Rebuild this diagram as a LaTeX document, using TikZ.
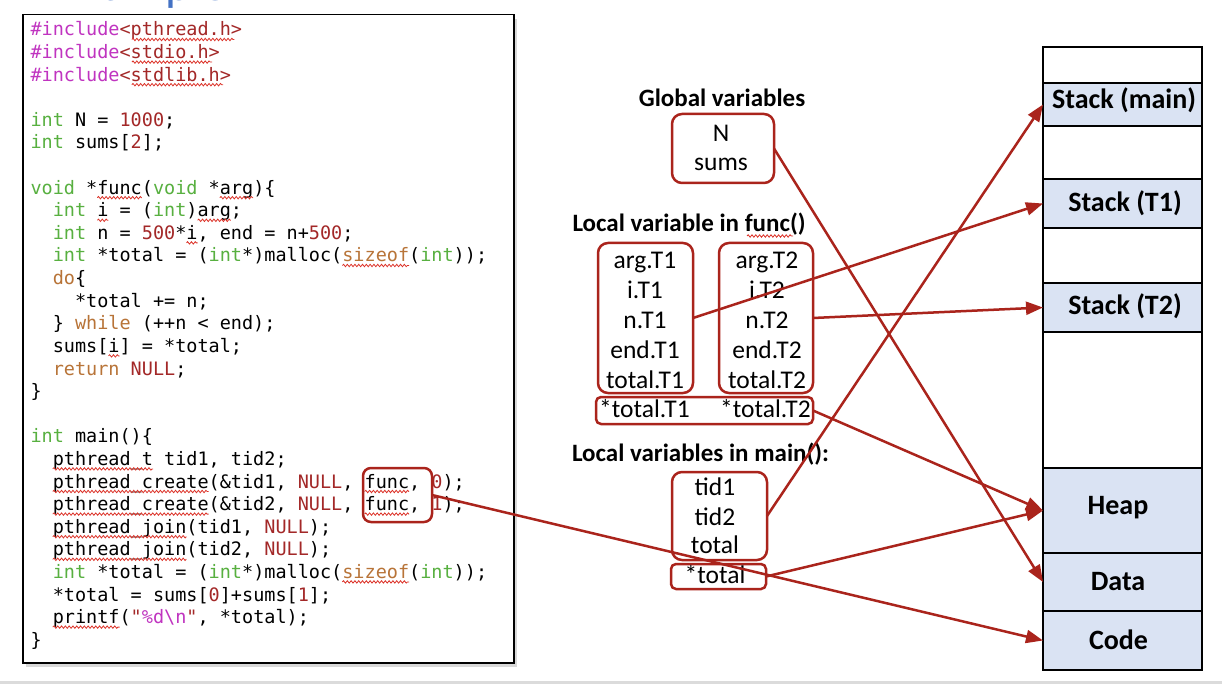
\documentclass[tikz,border=0pt]{standalone}
\usepackage{fontspec}
\setmainfont{Carlito}
\newfontfamily\codefont{DejaVu Sans Mono}
\usetikzlibrary{arrows.meta,decorations.pathmorphing,shadows}
\definecolor{arrowred}{RGB}{170,36,28}
\definecolor{cgr}{RGB}{88,176,64}
\definecolor{cmg}{RGB}{192,52,192}
\definecolor{crd}{RGB}{163,40,40}
\definecolor{cor}{RGB}{184,116,56}
\definecolor{memblue}{RGB}{218,227,243}
\definecolor{titleblue}{RGB}{68,114,196}
\definecolor{squigred}{RGB}{220,50,40}
\newcommand{\cgreen}[1]{\textcolor{cgr}{#1}}
\newcommand{\cmag}[1]{\textcolor{cmg}{#1}}
\newcommand{\cred}[1]{\textcolor{crd}{#1}}
\newcommand{\corange}[1]{\textcolor{cor}{#1}}
\tikzset{
  codeline/.style={anchor=base west, inner sep=0pt, outer sep=0pt, font=\codefont\fontsize{18.5}{22}\selectfont},
  squig/.style={draw=squigred, line width=0.8pt, decorate, decoration={snake, amplitude=1.2pt, segment length=3.8pt}},
  rbox/.style={draw=arrowred, line width=2.5pt, rounded corners=10pt, inner sep=0pt, outer sep=0pt},
  sbox/.style={draw=arrowred, line width=2.5pt, rounded corners=5pt, inner sep=0pt, outer sep=0pt},
  head/.style={anchor=base, inner sep=0pt, font=\bfseries\fontsize{25}{29}\selectfont},
  var/.style={anchor=base, inner sep=0pt, font=\fontsize{25.5}{29}\selectfont},
  seg/.style={draw=black, line width=1.3pt, fill=memblue, minimum width=159pt, inner sep=0pt, outer sep=0pt},
  memlabel/.style={anchor=base, inner sep=0pt, font=\bfseries\fontsize{28}{32}\selectfont},
  arr/.style={draw=arrowred, line width=2.5pt, -{Triangle[length=17pt,width=13pt]}}
}
\newcommand{\sqg}[3]{\draw[squig] ({30.5+11.137*#2},{#1+3.5}) -- ({30.5+11.137*#3},{#1+3.5});}
\begin{document}
\begin{tikzpicture}[x=1pt,y=-1pt]
\useasboundingbox (0,0) rectangle (1222,684);
\fill[white] (0,0) rectangle (1222,684);
\fill[black!14] (0,681) rectangle (1222,684);
\begin{scope}
\clip (0,0) rectangle (1222,684);
\node[anchor=base west, inner sep=0pt, text=titleblue, font=\fontsize{49}{52}\selectfont] (title) at (58,1) {Example};
\end{scope}
% code box
\node[draw=black, line width=1.5pt, fill=white, drop shadow={shadow xshift=3pt, shadow yshift=-4pt, opacity=0.3}, minimum width=491pt, minimum height=648pt, anchor=north west, inner sep=0pt] (codebox) at (22,14) {};
% code lines
\node[codeline] (l1) at (30.5,36) {\cmag{\#include}\cred{<pthread.h>}};
\node[codeline] (l2) at (30.5,58.6) {\cmag{\#include}\cred{<stdio.h>}};
\node[codeline] (l3) at (30.5,81.2) {\cmag{\#include}\cred{<stdlib.h>}};
\node[codeline] (l5) at (30.5,126.4) {\cgreen{int} N = \cred{1000};};
\node[codeline] (l6) at (30.5,149) {\cgreen{int} sums[\cred{2}];};
\node[codeline] (l8) at (30.5,194.2) {\cgreen{void} *func(\cgreen{void} *arg)\{};
\node[codeline] (l9) at (52.77,216.8) {\cgreen{int} i = (\cgreen{int})arg;};
\node[codeline] (l10) at (52.77,239.4) {\cgreen{int} n = \cred{500}*i, end = n+\cred{500};};
\node[codeline] (l11) at (52.77,262) {\cgreen{int} *total = (\cgreen{int}*)malloc(\corange{sizeof}(\cgreen{int}));};
\node[codeline] (l12) at (52.77,284.6) {\corange{do}\{};
\node[codeline] (l13) at (75.05,307.2) {*total += n;};
\node[codeline] (l14) at (52.77,329.8) {\} \corange{while} (++n < end);};
\node[codeline] (l15) at (52.77,352.4) {sums[i] = *total;};
\node[codeline] (l16) at (52.77,375) {\corange{return} \cred{NULL};};
\node[codeline] (l17) at (30.5,397.6) {\}};
\node[codeline] (l19) at (30.5,442.8) {\cgreen{int} main()\{};
\node[codeline] (l20) at (52.77,465.4) {pthread\_t tid1, tid2;};
\node[codeline] (l21) at (52.77,488) {pthread\_create(\&tid1, \cred{NULL}, func, \cred{0});};
\node[codeline] (l22) at (52.77,510.6) {pthread\_create(\&tid2, \cred{NULL}, func, \cred{1});};
\node[codeline] (l23) at (52.77,533.2) {pthread\_join(tid1, \cred{NULL});};
\node[codeline] (l24) at (52.77,555.8) {pthread\_join(tid2, \cred{NULL});};
\node[codeline] (l25) at (52.77,578.4) {\cgreen{int} *total = (\cgreen{int}*)malloc(\corange{sizeof}(\cgreen{int}));};
\node[codeline] (l26) at (52.77,601) {*total = sums[\cred{0}]+sums[\cred{1}];};
\node[codeline] (l27) at (52.77,623.6) {printf(\cred{"}\cmag{\%d\textbackslash n}\cred{"}, *total);};
\node[codeline] (l28) at (30.5,646.2) {\}};
% squiggles
\sqg{36}{9.1}{18.3}
\sqg{58.6}{9.1}{16.3}
\sqg{81.2}{9.1}{17.3}
\sqg{194.2}{6}{10}
\sqg{194.2}{17}{20}
\sqg{216.8}{6}{7}
\sqg{216.8}{15}{18}
\sqg{239.4}{14}{15}
\sqg{262}{28}{34}
\sqg{352.4}{7}{8}
\sqg{465.4}{2}{11}
\sqg{488}{2}{16}
\sqg{488}{30}{34}
\sqg{510.6}{2}{16}
\sqg{510.6}{30}{34}
\sqg{533.2}{2}{14}
\sqg{555.8}{2}{14}
\sqg{578.4}{28}{34}
\sqg{623.6}{2}{8}
% func box
\node[rbox, rounded corners=8pt, minimum width=69pt, minimum height=54pt] (funcbox) at (397.5,495) {};
% middle
\node[head] (hglob) at (722,106.7) {Global variables};
\node[rbox, minimum width=102pt, minimum height=69pt] (glob) at (723,148.5) {};
\node[var] (vN) at (721,141.7) {N};
\node[var] (vsums) at (721,170.7) {sums};
\node[head] (hfunc) at (689,231.7) {Local variable in func()};
\draw[squig] (747,236) -- (793,236);
\node[rbox, minimum width=95pt, minimum height=150pt] (t1) at (645.5,318) {};
\node[rbox, minimum width=94pt, minimum height=150pt] (t2) at (766,318) {};
\node[var] (a1) at (645,268.3) {arg.T1};
\node[var] (i1) at (645,298.3) {i.T1};
\node[var] (n1) at (645,328.3) {n.T1};
\node[var] (e1) at (645,358.3) {end.T1};
\node[var] (o1) at (645,388.3) {total.T1};
\node[var] (a2) at (767,268.3) {arg.T2};
\node[var] (i2) at (767,298.3) {i.T2};
\node[var] (n2) at (767,328.3) {n.T2};
\node[var] (e2) at (767,358.3) {end.T2};
\node[var] (o2) at (767,388.3) {total.T2};
\node[sbox, minimum width=217pt, minimum height=27pt] (tots) at (704.5,410.5) {};
\node[var, anchor=base west] (p1) at (599,417.3) {*total.T1};
\node[var, anchor=base east] (p2) at (811,417.3) {*total.T2};
\node[head] (hmain) at (700.5,461.7) {Local variables in main():};
\node[rbox, minimum width=95pt, minimum height=88pt] (mainb) at (719.5,516) {};
\node[var] (m1) at (715,495) {tid1};
\node[var] (m2) at (715,525) {tid2};
\node[var] (m3) at (715,553.3) {total};
\node[sbox, minimum width=95pt, minimum height=25pt] (mtot) at (718.5,576.5) {};
\node[var] (mp) at (715,583.3) {*total};
% memory column
\draw[black, line width=1.3pt] (1043,47) rectangle (1202,670);
\node[seg, minimum height=43pt] (smain) at (1122.5,104.5) {};
\node[seg, minimum height=49pt] (st1) at (1122.5,203.5) {};
\node[seg, minimum height=49pt] (st2) at (1122.5,307.5) {};
\node[seg, minimum height=85pt] (heap) at (1122.5,510.5) {};
\node[seg, minimum height=58pt] (data) at (1122.5,582) {};
\node[seg, minimum height=59pt] (code) at (1122.5,640.5) {};
\node[memlabel] at (1124,108.3) {Stack (main)};
\node[memlabel] at (1125,211.7) {Stack (T1)};
\node[memlabel] at (1125,314) {Stack (T2)};
\node[memlabel] at (1118,514) {Heap};
\node[memlabel] at (1118,590.7) {Data};
\node[memlabel] at (1118.5,649.3) {Code};
% arrows
\draw[arr] (glob.east) -- (data.west);
\draw[arr] (t1.east) -- (st1.west);
\draw[arr] (t2.east) -- (st2.west);
\draw[arr] (tots.east) -- (heap.west);
\draw[arr] (mainb.east) -- (smain.west);
\draw[arr] (mtot.east) -- (heap.west);
\draw[arr] (funcbox.east) -- (code.west);
\end{tikzpicture}
\end{document}
